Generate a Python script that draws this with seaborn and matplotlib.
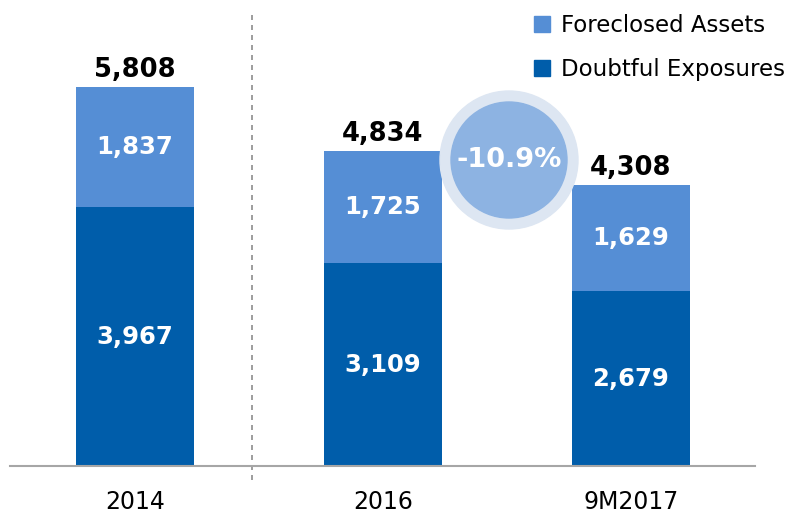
import pandas as pd
import matplotlib.pyplot as plt
import seaborn as sns
from matplotlib.patches import Circle, Patch

# Values
periods = ["2014", "2016", "9M2017"]
doubtful = [3967, 3109, 2679]
foreclosed = [1837, 1725, 1629]
totals = [5808, 4834, 4308]
change_label = "-10.9%"

dark_blue = "#005DAA"
light_blue = "#558ED5"

df = pd.DataFrame({"period": periods, "doubtful": doubtful,
                   "foreclosed": foreclosed, "total": totals})

sns.set_style("white")
plt.rcParams['font.family'] = ['DejaVu Sans']
plt.rcParams['text.color'] = 'black'

fig = plt.figure(figsize=(7.88, 5.13), dpi=100)
ax = fig.add_axes([10 / 788, 47 / 513, 745 / 788, 466 / 513])

# Stacked bars: total (light) first, then doubtful (dark) on top
sns.barplot(data=df, x="period", y="total", color=light_blue, width=0.476,
            saturation=1, linewidth=0, ax=ax)
sns.barplot(data=df, x="period", y="doubtful", color=dark_blue, width=0.476,
            saturation=1, linewidth=0, ax=ax)

ax.set_xlim(-0.504, 2.5)
ax.set_ylim(0, 7141)

# Labels
for i, row in df.iterrows():
    ax.text(i, row["total"] + 60, f"{row['total']:,}", ha="center", va="bottom",
            fontsize=18.5, fontweight="bold", color="black")
    ax.text(i, row["doubtful"] + row["foreclosed"] / 2, f"{row['foreclosed']:,}",
            ha="center", va="center", fontsize=17.5, fontweight="bold", color="white")
    ax.text(i, row["doubtful"] / 2, f"{row['doubtful']:,}",
            ha="center", va="center", fontsize=17.5, fontweight="bold", color="white")

# Dashed divider between 2014 and later periods
ax.plot([0.472, 0.472], [-215, 6911], color="#8c8c8c", linestyle=(0, (3, 3)),
        linewidth=1.2, clip_on=False)

# Change bubble
cx, cy = 509 / 788, (513 - 160) / 513
outer = Circle((cx * 788, cy * 513), 69, transform=None, color="#dde6f2", zorder=5)
inner = Circle((cx * 788, cy * 513), 58, transform=None, color="#8db3e2", zorder=6)
fig.patches.extend([outer, inner])
fig.text(cx, cy, change_label, ha="center", va="center", fontsize=19.5,
         fontweight="bold", color="white", zorder=7)

# Axes styling
sns.despine(ax=ax, left=True, top=True, right=True)
ax.spines["bottom"].set_color("#a6a6a6")
ax.spines["bottom"].set_linewidth(1.5)
ax.set_yticks([])
ax.set_xlabel("")
ax.set_ylabel("")
ax.tick_params(axis="x", length=0, pad=17, labelsize=17, labelcolor="black")

handles = [Patch(color=light_blue, label="Foreclosed Assets"),
           Patch(color=dark_blue, label="Doubtful Exposures")]
fig.legend(handles=handles, loc="upper right", bbox_to_anchor=(1.022, 1.012),
           frameon=False, fontsize=16.5, labelcolor="black", handlelength=0.7,
           handleheight=0.7, handletextpad=0.45, labelspacing=0.9)

fig.savefig("out.png", dpi=100)
